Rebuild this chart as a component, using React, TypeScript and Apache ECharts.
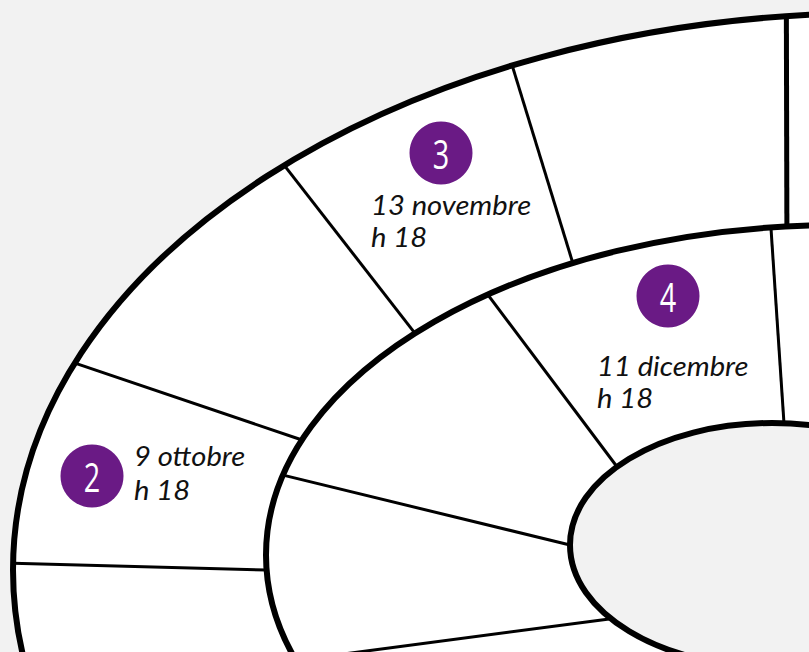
import React, { useEffect, useRef } from "react";
import * as echarts from "echarts";

// ---- content ----
const stepNumbers = ["2", "3", "4"];
const stepDates = ["9 ottobre", "13 novembre", "11 dicembre"];
const stepTimes = ["h 18", "h 18", "h 18"];

// ---- layout (geometry of the board) ----
const W = 809;
const H = 652;
const OUTER = { cx: 880, cy: 570, rx: 867, ry: 557 };
const MIDDLE = { cx: 841, cy: 555, rx: 575, ry: 330 };
const INNER = { cx: 772, cy: 545, rx: 202, ry: 122 };
// spokes as [angle on outer boundary, angle on inner boundary] in degrees
const outerRingSpokes: [number, number][] = [
  [96.2, 95.4],
  [115.1, 117.8],
  [133.4, 137.8],
  [158.2, 159.6],
  [179.3, 182.6],
];
const middleRingSpokes: [number, number][] = [
  [97.0, 86.6],
  [127.9, 140.1],
  [166.0, 180.0],
  [198.6, 217.2],
];
// badge centres, text anchors and line heights
const badgeCenters: [number, number][] = [
  [92, 476],
  [441, 153],
  [668, 296],
];
const textAnchors: [number, number][] = [
  [134, 438],
  [371, 188],
  [597, 349],
];
const lineHeights = [34, 32, 32];

const PURPLE = "#6a1a85";
const BG = "#f2f2f2";

function pt(e: { cx: number; cy: number; rx: number; ry: number }, deg: number) {
  const t = (deg * Math.PI) / 180;
  return [e.cx + e.rx * Math.cos(t), e.cy - e.ry * Math.sin(t)];
}

export default function App() {
  const ref = useRef<HTMLDivElement>(null);
  useEffect(() => {
    if (!ref.current) return;
    const chart = echarts.init(ref.current, undefined, { renderer: "svg" });
    const graphic: any[] = [];
    graphic.push({
      type: "ellipse",
      z: 1,
      shape: OUTER,
      style: { fill: "#ffffff", stroke: null },
    });
    outerRingSpokes.forEach(([a1, a2], i) => {
      const p1 = pt(OUTER, a1);
      const p2 = pt(MIDDLE, a2);
      graphic.push({
        type: "line",
        z: 2,
        shape: { x1: p1[0], y1: p1[1], x2: p2[0], y2: p2[1] },
        style: { stroke: "#000", lineWidth: i === 0 ? 5 : 3 },
      });
    });
    middleRingSpokes.forEach(([a1, a2]) => {
      const p1 = pt(MIDDLE, a1);
      const p2 = pt(INNER, a2);
      graphic.push({
        type: "line",
        z: 2,
        shape: { x1: p1[0], y1: p1[1], x2: p2[0], y2: p2[1] },
        style: { stroke: "#000", lineWidth: 3 },
      });
    });
    graphic.push({
      type: "ellipse",
      z: 3,
      shape: OUTER,
      style: { fill: null, stroke: "#000", lineWidth: 6 },
    });
    graphic.push({
      type: "ellipse",
      z: 3,
      shape: MIDDLE,
      style: { fill: null, stroke: "#000", lineWidth: 6 },
    });
    graphic.push({
      type: "ellipse",
      z: 3,
      shape: INNER,
      style: { fill: BG, stroke: "#000", lineWidth: 6 },
    });
    stepNumbers.forEach((n, i) => {
      const [bx, by] = badgeCenters[i];
      graphic.push({
        type: "circle",
        z: 4,
        shape: { cx: bx, cy: by, r: 31.5 },
        style: { fill: PURPLE },
      });
      graphic.push({
        type: "text",
        z: 5,
        x: bx,
        y: by + 1,
        scaleX: 0.72,
        style: {
          text: n,
          fill: "#ffffff",
          font: "40px 'Open Sans', sans-serif",
          align: "center",
          verticalAlign: "middle",
        },
      });
      const [tx, ty] = textAnchors[i];
      graphic.push({
        type: "text",
        z: 5,
        x: tx,
        y: ty,
        scaleX: 1.08,
        style: {
          text: stepDates[i] + "\n" + stepTimes[i],
          fill: "#111",
          font: "italic 27px Lato, 'Open Sans', sans-serif",
          lineHeight: lineHeights[i],
          align: "left",
          verticalAlign: "top",
        },
      });
    });
    chart.setOption({
      animation: false,
      backgroundColor: BG,
      graphic,
    });
    return () => chart.dispose();
  }, []);
  return (
    <div
      ref={ref}
      style={{ position: "fixed", left: 0, top: 0, width: W, height: H }}
    />
  );
}
